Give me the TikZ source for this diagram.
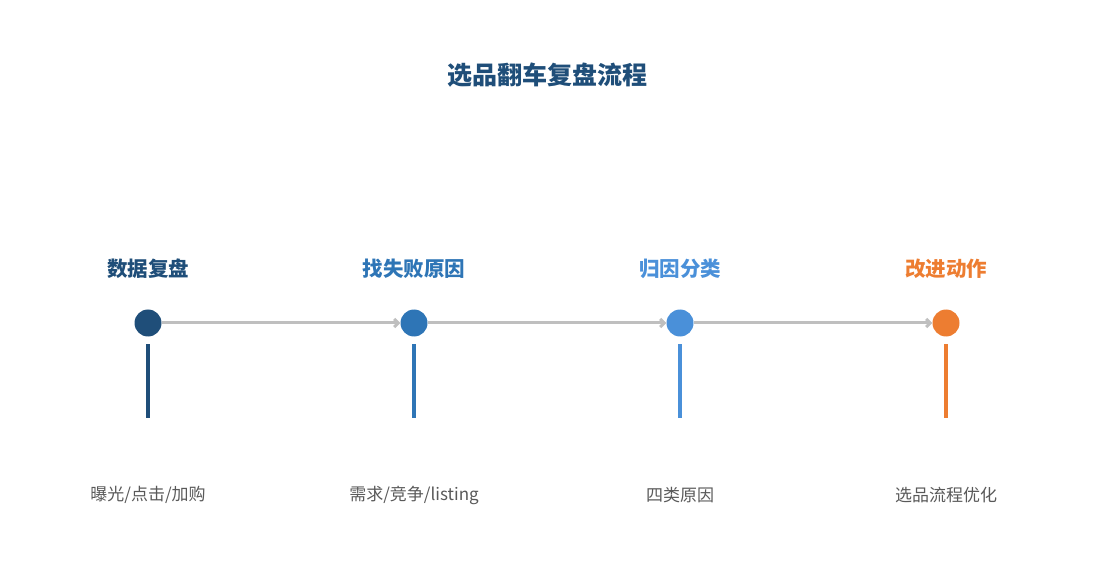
\documentclass[tikz,border=0pt]{standalone}
\usepackage{fontspec}
\setmainfont{Noto Sans CJK SC}
\usetikzlibrary{arrows.meta}
\definecolor{c1}{HTML}{1F4E79}
\definecolor{c2}{HTML}{2E75B6}
\definecolor{c3}{HTML}{4A90D9}
\definecolor{c4}{HTML}{ED7D31}
\definecolor{gr}{HTML}{BFBFBF}
\definecolor{tx}{HTML}{595959}
\begin{document}
\begin{tikzpicture}[x=1pt,y=-1pt,
  dot/.style={circle,fill=#1,minimum size=27pt,inner sep=0pt},
  head/.style={font=\bfseries\fontsize{20.5}{24}\selectfont,text=#1},
  sub/.style={font=\fontsize{17}{20}\selectfont,text=tx},
  stem/.style={draw=#1,line width=3.5pt},
  link/.style={draw=gr,line width=3pt,-{Straight Barb[length=4pt,width=8pt]}}]
\useasboundingbox (0,0) rectangle (1095,585);
\node[font=\bfseries\fontsize{25}{30}\selectfont,text=c1] (title) at (547,75) {选品翻车复盘流程};
\foreach \i/\x/\c/\h/\s in {1/148/c1/数据复盘/{曝光/点击/加购},2/414/c2/找失败原因/{需求/竞争/listing},3/680/c3/归因分类/四类原因,4/946/c4/改进动作/选品流程优化}{
  \node[dot=\c] (d\i) at (\x,323) {};
  \node[head=\c] (h\i) at (\x,269) {\h};
  \node[sub] (s\i) at (\x,495) {\s};
  \coordinate (t\i) at (\x,344);
  \coordinate (b\i) at (\x,418);
  \draw[stem=\c] (t\i) -- (b\i);
}
\draw[link] (d1) -- (d2);
\draw[link] (d2) -- (d3);
\draw[link] (d3) -- (d4);
\end{tikzpicture}
\end{document}
